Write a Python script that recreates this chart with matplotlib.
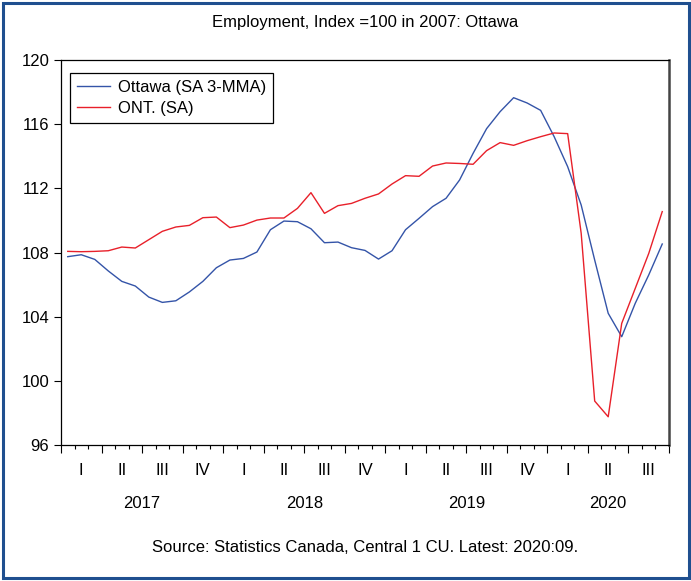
import numpy as np
import matplotlib.pyplot as plt
from matplotlib.patches import Rectangle

plt.rcParams['font.family'] = ['Liberation Sans', 'DejaVu Sans']

# monthly index, Jan 2017 .. Sep 2020
ottawa = [107.74, 107.86, 107.57, 106.85, 106.20, 105.91, 105.22, 104.89, 104.99,
          105.54, 106.20, 107.05, 107.53, 107.63, 108.03, 109.42, 109.96, 109.92,
          109.48, 108.61, 108.65, 108.30, 108.13, 107.59, 108.11, 109.42, 110.13,
          110.86, 111.38, 112.52, 114.18, 115.72, 116.78, 117.65, 117.32, 116.86,
          115.22, 113.35, 110.96, 107.53, 104.21, 102.75, 104.83, 106.60, 108.53]
ontario = [108.07, 108.05, 108.07, 108.11, 108.34, 108.28, 108.80, 109.32, 109.59,
           109.69, 110.17, 110.21, 109.55, 109.71, 110.02, 110.15, 110.15, 110.75,
           111.73, 110.44, 110.92, 111.06, 111.38, 111.65, 112.27, 112.79, 112.75,
           113.39, 113.58, 113.55, 113.50, 114.35, 114.85, 114.68, 114.97, 115.22,
           115.45, 115.41, 109.20, 98.74, 97.76, 103.58, 105.76, 107.94, 110.55]
quarters = ['I', 'II', 'III', 'IV'] * 3 + ['I', 'II', 'III']
years = ['2017', '2018', '2019', '2020']

n = len(ottawa)
x = np.arange(n)

fig = plt.figure(figsize=(6.91, 5.81), dpi=100)
ax = fig.add_axes([61 / 691, 1 - 445 / 581, 608 / 691, 385 / 581])

ax.plot(x, ottawa, color='#3454a8', lw=1.0, label='Ottawa (SA 3-MMA)')
ax.plot(x, ontario, color='#e8202a', lw=1.0, label='ONT. (SA)')

ax.set_xlim(-0.5, n - 0.5)
ax.set_ylim(96, 120)
ax.set_yticks(np.arange(96, 121, 4))
ax.tick_params(axis='y', labelsize=12, length=5, width=0.8, direction='out')

ax.set_xticks(np.arange(-0.5, n, 3))
ax.set_xticks(np.arange(-0.5, n, 1), minor=True)
ax.set_xticklabels([])
ax.tick_params(axis='x', which='major', length=6, width=0.8, direction='out')
ax.tick_params(axis='x', which='minor', length=3, width=0.8, direction='out')

for i, q in enumerate(quarters):
    ax.text(3 * i + 1, -0.065, q, transform=ax.get_xaxis_transform(),
            ha='center', va='center', fontsize=12)
for i, yr in enumerate(years):
    last = min(12 * i + 11, n - 1)
    ax.text((12 * i + last) / 2, -0.152, yr, transform=ax.get_xaxis_transform(),
            ha='center', va='center', fontsize=12)

for s in ['left', 'top', 'bottom']:
    ax.spines[s].set_linewidth(0.9)
ax.spines['right'].set_linewidth(1.8)
ax.spines['right'].set_color('#444444')

leg = ax.legend(loc='upper left', bbox_to_anchor=(9 / 608, 1 - 13 / 385), fontsize=12,
                fancybox=False, edgecolor='black', framealpha=1, borderaxespad=0,
                handlelength=2.0, handletextpad=0.45, borderpad=0.42, labelspacing=0.33)
leg.get_frame().set_linewidth(0.9)

fig.text(365 / 691, 1 - 22 / 581, 'Employment, Index =100 in 2007: Ottawa',
         ha='center', va='center', fontsize=12)
fig.text(365 / 691, 1 - 547 / 581, 'Source: Statistics Canada, Central 1 CU. Latest: 2020:09.',
         ha='center', va='center', fontsize=12)

fig.patches.append(Rectangle((3 / 691, 3 / 581), 686 / 691, 575 / 581,
                             transform=fig.transFigure, fill=False,
                             edgecolor='#1f4f8f', lw=2.2))

fig.savefig('out.png', dpi=100)
